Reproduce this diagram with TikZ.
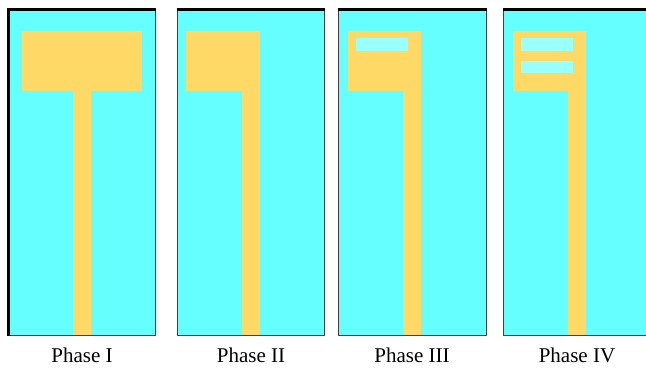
\documentclass[tikz,border=0pt]{standalone}
\usepackage{fontspec}
\setmainfont{Liberation Serif}
\definecolor{substrat}{RGB}{102,255,255}
\definecolor{patch}{RGB}{255,217,102}
\definecolor{slot}{RGB}{153,255,255}
\tikzset{
  board/.style={fill=substrat, draw=black!75, line width=1pt},
  rim/.style={line width=3pt},
  phase/.style={anchor=base, font=\fontsize{21}{24}\selectfont}
}
\begin{document}
\begin{tikzpicture}[x=1pt,y=-1pt]
\useasboundingbox (0,0) rectangle (646,368);
% Phase I
\draw [board] (8,10) rectangle (155,335);
\draw [rim] (7,9.5) -- (155.5,9.5);
\draw [rim] (8.5,8) -- (8.5,335.5);
\fill [patch] (22,31) rectangle (142,91);
\fill [patch] (73,91) rectangle (91,334.5);
\node [phase] (p1) at (82,362.5) {Phase I};
% Phase II
\draw [board] (177,10) rectangle (324,335);
\draw [rim] (176.5,9.5) -- (324.5,9.5);
\fill [patch] (186,31) rectangle (260,91);
\fill [patch] (242,91) rectangle (260,334.5);
\node [phase] (p2) at (251,362.5) {Phase II};
% Phase III
\draw [board] (338,10) rectangle (486,335);
\draw [rim] (337.5,9.5) -- (486.5,9.5);
\fill [patch] (348,31) rectangle (421,91);
\fill [patch] (403,91) rectangle (421,334.5);
\fill [slot] (356,38) rectangle (408,51);
\node [phase] (p3) at (412,362.5) {Phase III};
% Phase IV
\draw [board] (503,10) rectangle (660,335);
\draw [rim] (502.5,9.5) -- (660,9.5);
\fill [patch] (513,31) rectangle (586,91);
\fill [patch] (568,91) rectangle (586,334.5);
\fill [slot] (521,38) rectangle (573,51);
\fill [slot] (521,61) rectangle (573,73);
\node [phase] (p4) at (577,362.5) {Phase IV};
\end{tikzpicture}
\end{document}
